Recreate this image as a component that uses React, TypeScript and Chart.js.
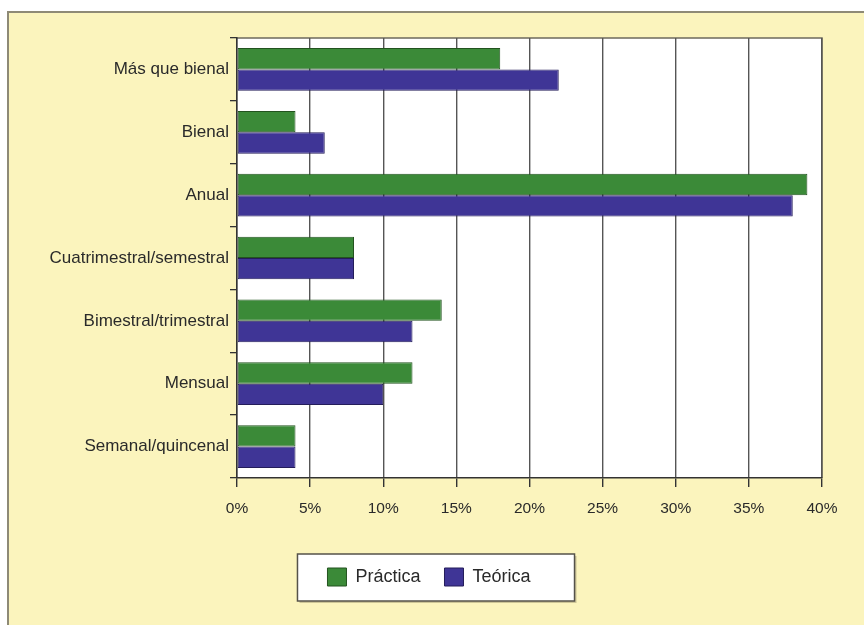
import React, { useEffect, useRef } from "react";
import { Chart, registerables } from "chart.js";

Chart.register(...registerables);

const categories = [
  "Más que bienal",
  "Bienal",
  "Anual",
  "Cuatrimestral/semestral",
  "Bimestral/trimestral",
  "Mensual",
  "Semanal/quincenal",
];
const practica = [18, 4, 39, 8, 14, 12, 4];
const teorica = [22, 6, 38, 8, 12, 10, 4];
const xTicks = [0, 5, 10, 15, 20, 25, 30, 35, 40];
const seriesNames = ["Práctica", "Teórica"];

const FONT = "'Liberation Sans', Arial, Helvetica, sans-serif";

const decorPlugin = {
  id: "decor",
  beforeDraw(chart: any) {
    const { ctx, chartArea: a } = chart;
    ctx.save();
    ctx.fillStyle = "#ffffff";
    ctx.fillRect(a.left, a.top, a.right - a.left, a.bottom - a.top);
    ctx.strokeStyle = "#6e6a5c";
    ctx.lineWidth = 1.5;
    ctx.beginPath();
    ctx.moveTo(a.left, a.top);
    ctx.lineTo(a.right, a.top);
    ctx.lineTo(a.right, a.bottom);
    ctx.stroke();
    const lg = chart.legend;
    if (lg && lg.legendHitBoxes && lg.legendHitBoxes.length) {
      const hb = lg.legendHitBoxes;
      const left = hb[0].left - 30;
      const right = hb[hb.length - 1].left + hb[hb.length - 1].width + 44;
      const cy = hb[0].top + hb[0].height / 2;
      const top = cy - 23;
      const h = 47;
      ctx.fillStyle = "rgba(120,110,80,0.35)";
      ctx.fillRect(left + 2, top + 2, right - left, h);
      ctx.fillStyle = "#ffffff";
      ctx.fillRect(left, top, right - left, h);
      ctx.strokeStyle = "#55524a";
      ctx.lineWidth = 1.5;
      ctx.strokeRect(left, top, right - left, h);
    }
    ctx.restore();
  },
};

export default function App() {
  const canvasRef = useRef<HTMLCanvasElement | null>(null);

  useEffect(() => {
    const canvas = canvasRef.current;
    if (!canvas) return;
    const chart = new Chart(canvas, {
      type: "bar",
      data: {
        labels: categories,
        datasets: [
          {
            label: seriesNames[0],
            data: practica,
            backgroundColor: "#3b8a38",
            borderColor: "#23531f",
            borderWidth: 1,
            borderSkipped: false,
            categoryPercentage: 0.68,
            barPercentage: 1.0,
          },
          {
            label: seriesNames[1],
            data: teorica,
            backgroundColor: "#3f3596",
            borderColor: "#241d5a",
            borderWidth: 1,
            borderSkipped: false,
            categoryPercentage: 0.68,
            barPercentage: 1.0,
          },
        ],
      },
      options: {
        indexAxis: "y",
        responsive: false,
        animation: false,
        devicePixelRatio: 1,
        layout: { padding: { left: 36, right: 42, top: 38, bottom: 29 } },
        scales: {
          x: {
            type: "linear",
            min: 0,
            max: 40,
            afterBuildTicks: (axis: any) => {
              axis.ticks = xTicks.map((v) => ({ value: v }));
            },
            afterFit: (axis: any) => {
              axis.height = 66;
            },
            ticks: {
              callback: (v: any) => v + "%",
              color: "#2a2a2a",
              font: { family: FONT, size: 15.5 },
              padding: 12,
              maxRotation: 0,
            },
            grid: {
              color: "#555555",
              lineWidth: 1.4,
              tickLength: 9,
              tickColor: "#333",
            },
            border: { display: true, color: "#333", width: 1.5 },
          },
          y: {
            type: "category",
            afterFit: (axis: any) => {
              axis.width = 201;
            },
            ticks: {
              color: "#2a2a2a",
              font: { family: FONT, size: 17 },
              padding: 1,
              autoSkip: false,
            },
            grid: {
              drawOnChartArea: false,
              offset: true,
              tickLength: 7,
              tickColor: "#333",
              lineWidth: 1.3,
            },
            border: { display: true, color: "#333", width: 1.5 },
          },
        },
        plugins: {
          legend: {
            position: "bottom",
            labels: {
              boxWidth: 19,
              boxHeight: 18,
              padding: 24,
              color: "#2a2a2a",
              font: { family: FONT, size: 18 },
            },
          },
          tooltip: { enabled: false },
          title: { display: false },
        },
      },
      plugins: [decorPlugin],
    } as any);
    return () => chart.destroy();
  }, []);

  return (
    <div style={{ position: "absolute", left: 0, top: 0, width: 864, height: 625, background: "#ffffff", overflow: "hidden" }}>
      <div
        style={{
          position: "absolute",
          left: 7,
          top: 11,
          width: 900,
          height: 700,
          background: "#fbf4bd",
          borderTop: "2px solid #8e8a76",
          borderLeft: "2px solid #8e8a76",
        }}
      />
      <canvas ref={canvasRef} width={864} height={625} style={{ position: "absolute", left: 0, top: 0 }} />
    </div>
  );
}
